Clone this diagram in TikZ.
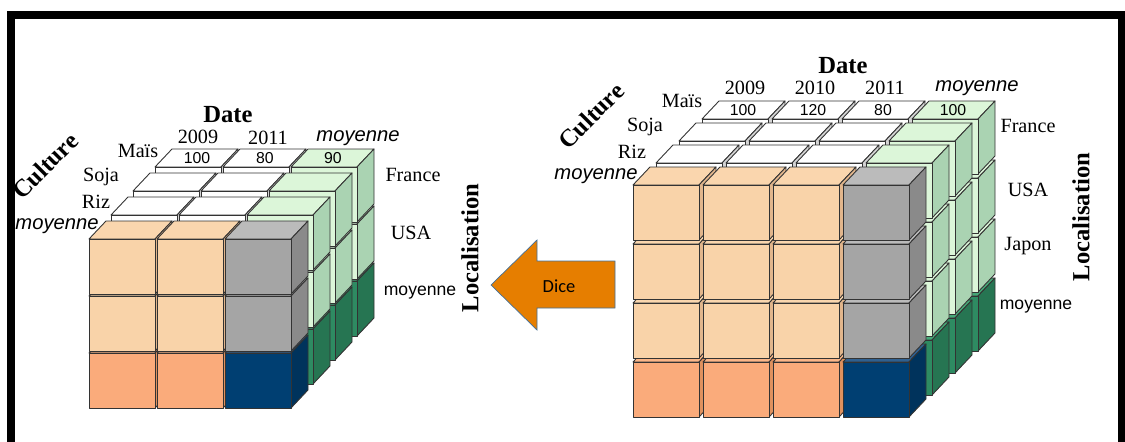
\documentclass[tikz,border=0pt]{standalone}
\usepackage{fontspec}
\setmainfont{Liberation Serif}
\newfontfamily\arial{Liberation Sans}
\newfontfamily\calibri{Carlito}

\definecolor{peachF}{HTML}{F9D3A9}
\definecolor{peachT}{HTML}{FAD6AE}
\definecolor{peachS}{HTML}{E2B68C}
\definecolor{peachdkF}{HTML}{FAAB7B}
\definecolor{peachdkT}{HTML}{FBB688}
\definecolor{peachdkS}{HTML}{DF915E}
\definecolor{grisF}{HTML}{A5A5A5}
\definecolor{grisT}{HTML}{BBBBBB}
\definecolor{grisS}{HTML}{8A8A8A}
\definecolor{marineF}{HTML}{003F72}
\definecolor{marineT}{HTML}{2F6090}
\definecolor{marineS}{HTML}{00335C}
\definecolor{blancF}{HTML}{FFFFFF}
\definecolor{blancT}{HTML}{FFFFFF}
\definecolor{blancS}{HTML}{D4D4D4}
\definecolor{vertcF}{HTML}{DCF6D9}
\definecolor{vertcT}{HTML}{DCF6D9}
\definecolor{vertcS}{HTML}{AAD3B2}
\definecolor{vertsF}{HTML}{2E8B62}
\definecolor{vertsT}{HTML}{45A877}
\definecolor{vertsS}{HTML}{267552}
\definecolor{flecheF}{HTML}{E67E00}
\definecolor{flecheD}{HTML}{41719C}

% un petit cube : coin haut-gauche de la face avant, couleur
\newcommand{\boite}[3]{%
  \filldraw[face,fill=#3T] (#1,#2) -- ++(17,-18) -- ++(66,0) -- ++(-17,18) -- cycle;
  \filldraw[face,fill=#3S] (#1+66,#2) -- ++(17,-18) -- ++(0,55) -- ++(-17,18) -- cycle;
  \filldraw[face,fill=#3F] (#1,#2) rectangle ++(66,55);
}

\begin{document}
\begin{tikzpicture}[x=0.2mm,y=-0.2mm,
    face/.style={draw=black!80,line width=0.5pt,line join=round},
    titre/.style={font=\bfseries\fontsize{14}{16}\selectfont},
    lab/.style={font=\fontsize{11.5}{13}\selectfont},
    moy/.style={font=\arial\itshape\fontsize{11.5}{13}\selectfont},
    val/.style={font=\arial\fontsize{9}{10}\selectfont},
    moyd/.style={font=\arial\fontsize{10}{12}\selectfont}]
    \useasboundingbox (0,0) rectangle (1125,442);
    \draw[line width=1.6mm] (11,442) -- (11,15) -- (1122,15) -- (1122,442);

    % cube de droite
    \foreach \d in {3,2,1,0} {
        \foreach \r in {3,2,1,0} {
            \foreach \c in {0,1,2,3} {
                \pgfmathtruncatemacro\k{4*(\d>0)+2*(\c==3)+(\r==3)}
                \edef\teinte{\ifcase\k peach\or peachdk\or gris\or marine\or blanc\or blanc\or vertc\or verts\fi}
                \boite{633+70*\c+23*\d}{185+59*\r-22*\d}{\teinte}
            }
        }
    }
    \foreach \c/\v in {0/100,1/120,2/80,3/100} {
        \node[val] (vD\c) at (743+70*\c,110) {\v};
    }
    \node[titre] (dateD) at (843,66) {Date};
    \foreach \c/\a in {0/2009,1/2010,2/2011} {
        \node[lab] (anD\c) at (745+70*\c,88) {\a};
    }
    \node[moy] (moyanD) at (977,88) {moyenne};
    \node[lab] (maisD) at (682,101) {Maïs};
    \node[lab] (sojaD) at (645,127) {Soja};
    \node[lab] (rizD) at (632,152) {Riz};
    \node[moy] (moycuD) at (596,176) {moyenne};
    \node[titre,rotate=45] (cultD) at (591,116) {Culture};
    \node[lab] (franceD) at (1028,126) {France};
    \node[lab] (usaD) at (1028,190) {USA};
    \node[lab] (japonD) at (1028,246) {Japon};
    \node[moyd] (moylocD) at (1036,307) {moyenne};
    \node[titre,rotate=90] (locD) at (1081,217) {Localisation};

    % cube de gauche
    \foreach \d in {3,2,1,0} {
        \foreach \r in {2,1,0} {
            \foreach \c in {0,1,2} {
                \pgfmathtruncatemacro\k{4*(\d>0)+2*(\c==2)+(\r==2)}
                \edef\teinte{\ifcase\k peach\or peachdk\or gris\or marine\or blanc\or blanc\or vertc\or verts\fi}
                \boite{89+68*\c+22*\d}{239+57*\r-24*\d}{\teinte}
            }
        }
    }
    \foreach \c/\v in {0/100,1/80,2/90} {
        \node[val] (vG\c) at (197+68*\c,158) {\v};
    }
    \node[titre] (dateG) at (228,115) {Date};
    \node[lab] (anG0) at (198,137) {2009};
    \node[lab] (anG1) at (268,138) {2011};
    \node[moy] (moyanG) at (358,138) {moyenne};
    \node[lab] (maisG) at (138,151) {Maïs};
    \node[lab] (sojaG) at (101,177) {Soja};
    \node[lab] (rizG) at (96,202) {Riz};
    \node[moy] (moycuG) at (57,226) {moyenne};
    \node[titre,rotate=45] (cultG) at (45,166) {Culture};
    \node[lab] (franceG) at (413,175) {France};
    \node[lab] (usaG) at (411,233) {USA};
    \node[moyd] (moylocG) at (420,293) {moyenne};
    \node[titre,rotate=90] (locG) at (470,248) {Localisation};

    % fleche Dice
    \filldraw[fill=flecheF,draw=flecheD,line width=0.4pt]
        (491,285) -- (537,240) -- (537,261) -- (615,261) -- (615,308) -- (537,308) -- (537,330) -- cycle;
    \node[font=\calibri\fontsize{10.5}{12}\selectfont] (dice) at (559,286) {Dice};
\end{tikzpicture}
\end{document}
